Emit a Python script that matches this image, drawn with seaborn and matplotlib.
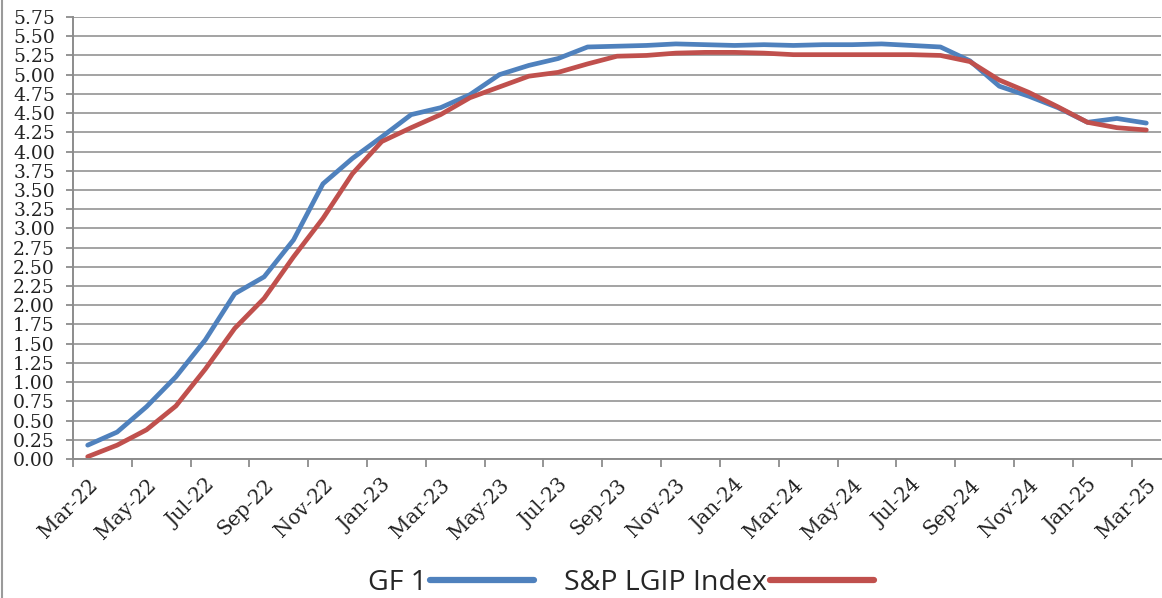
import pandas as pd
import numpy as np
import matplotlib
matplotlib.use("Agg")
import matplotlib.pyplot as plt
import seaborn as sns
from matplotlib.lines import Line2D

# mesi (Mar-22 .. Mar-25)
mesi = pd.date_range("2022-03-01", periods=37, freq="MS").strftime("%b-%y").tolist()

# rendimenti
gf1 = [0.18, 0.35, 0.68, 1.07, 1.55, 2.15, 2.37, 2.85, 3.58, 3.91,
       4.19, 4.48, 4.57, 4.74, 5.00, 5.12, 5.21, 5.36, 5.37, 5.38,
       5.40, 5.39, 5.38, 5.39, 5.38, 5.39, 5.39, 5.40, 5.38, 5.36,
       5.18, 4.85, 4.72, 4.57, 4.38, 4.43, 4.37]
lgip = [0.03, 0.18, 0.38, 0.69, 1.17, 1.70, 2.09, 2.63, 3.13, 3.71,
        4.13, 4.31, 4.48, 4.70, 4.84, 4.98, 5.03, 5.14, 5.24, 5.25,
        5.28, 5.29, 5.29, 5.28, 5.26, 5.26, 5.26, 5.26, 5.26, 5.25,
        5.17, 4.93, 4.77, 4.58, 4.38, 4.31, 4.28]

serie = ["GF 1", "S&P LGIP Index"]
colori = {"GF 1": "#4F81BD", "S&P LGIP Index": "#C0504D"}

df = pd.DataFrame({"mese": mesi, "GF 1": gf1, "S&P LGIP Index": lgip})
df["pos"] = np.arange(len(df))
df_long = df.melt(id_vars=["mese", "pos"], var_name="serie", value_name="rendimento")

sns.set_style("white")
plt.rcParams["font.family"] = ["DejaVu Serif"]

W, H = 1162, 598
fig = plt.figure(figsize=(W / 100, H / 100), dpi=100)
ax = fig.add_axes([73 / W, 139 / H, 1088 / W, 442 / H])

sns.lineplot(data=df_long, x="pos", y="rendimento", hue="serie", hue_order=serie,
             palette=colori, linewidth=3.4, ax=ax, legend=False)

ax.set_xlim(-0.5, 36.5)
ax.set_ylim(0, 5.75)
ax.set_xlabel("")
ax.set_ylabel("")

# asse y
ax.set_yticks(np.arange(0, 5.76, 0.25))
ax.set_yticklabels(["%.2f" % v for v in np.arange(0, 5.76, 0.25)], fontsize=13.5)
ax.yaxis.grid(True, color="#a3a3a3", linewidth=1.4)
ax.set_axisbelow(True)
ax.tick_params(axis="y", direction="out", length=5, width=1.3, color="#8c8c8c",
               pad=8, left=True, labelcolor="#222222")

# asse x: etichette ogni due mesi, tacche tra le categorie
ax.set_xticks(df["pos"][::2])
ax.set_xticklabels(df["mese"][::2], fontsize=14.5, rotation=45, ha="right",
                   rotation_mode="anchor")
ax.tick_params(axis="x", which="major", length=0, pad=12, labelcolor="#222222")
ax.set_xticks(np.arange(-0.5, 36, 2), minor=True)
ax.tick_params(axis="x", which="minor", direction="out", length=6, width=1.3,
               color="#8c8c8c", bottom=True)

for s in ["top", "right"]:
    ax.spines[s].set_visible(False)
for s in ["left", "bottom"]:
    ax.spines[s].set_color("#8c8c8c")
    ax.spines[s].set_linewidth(1.4)

# legenda sotto il grafico
handles = [Line2D([], [], color=colori[s], linewidth=4.5) for s in serie]
fig.legend(handles, serie, loc="center", bbox_to_anchor=(621 / W, 1 - 583 / H),
           ncol=2, markerfirst=False, frameon=False, handlelength=3.65,
           handletextpad=0.12, columnspacing=1.05,
           prop={"family": "Open Sans", "size": 20.5})

# bordo sinistro dell'area del grafico
fig.add_artist(Line2D([2 / W, 2 / W], [0, 1], color="#9a9a9a", linewidth=1.5))

fig.savefig("out.png", dpi=100)
